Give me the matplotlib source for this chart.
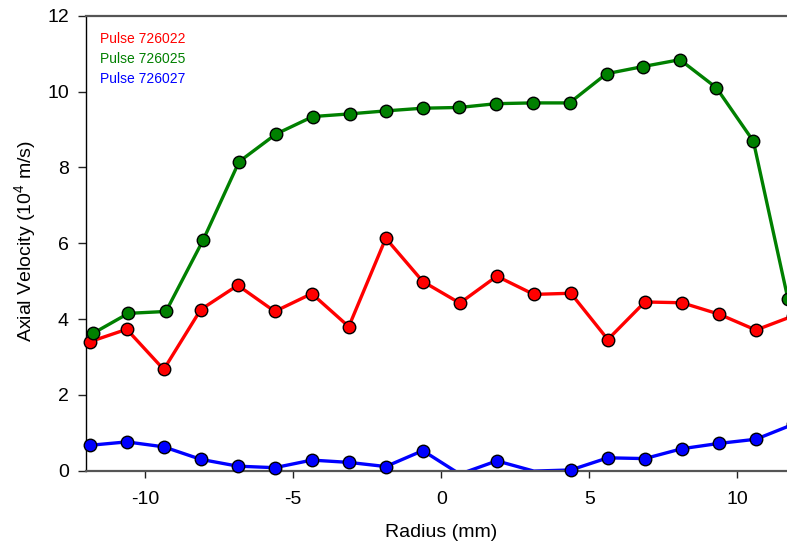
import matplotlib
matplotlib.use("Agg")
import matplotlib.pyplot as plt
import numpy as np

plt.rcParams['font.family'] = ['Liberation Sans', 'DejaVu Sans']
plt.rcParams['mathtext.fontset'] = 'custom'
plt.rcParams['mathtext.rm'] = 'Liberation Sans'
plt.rcParams['mathtext.it'] = 'Liberation Sans:italic'

# Data
radius = [-11.875, -10.625, -9.375, -8.125, -6.875, -5.625, -4.375, -3.125, -1.875, -0.625,
          0.625, 1.875, 3.125, 4.375, 5.625, 6.875, 8.125, 9.375, 10.625, 11.875]
radius_green = [-11.77, -10.57, -9.30, -8.04, -6.83, -5.58, -4.34, -3.10, -1.87, -0.63,
                0.61, 1.86, 3.09, 4.33, 5.58, 6.82, 8.06, 9.29, 10.54, 11.71]
v_726022 = [3.40, 3.73, 2.67, 4.25, 4.89, 4.20, 4.67, 3.80, 6.13, 4.99,
            4.42, 5.13, 4.65, 4.68, 3.46, 4.45, 4.43, 4.13, 3.71, 4.08]
v_726025 = [3.62, 4.15, 4.20, 6.09, 8.15, 8.88, 9.34, 9.41, 9.49, 9.56,
            9.58, 9.68, 9.70, 9.70, 10.47, 10.66, 10.84, 10.10, 8.69, 4.52]
v_726027 = [0.67, 0.76, 0.63, 0.30, 0.12, 0.08, 0.28, 0.22, 0.11, 0.53,
            -0.09, 0.26, -0.01, 0.02, 0.34, 0.32, 0.58, 0.72, 0.83, 1.22]
labels = ['Pulse 726022', 'Pulse 726025', 'Pulse 726027']
colors = ['#ff0000', '#008000', '#0000ff']
xticks = [-10, -5, 0, 5, 10]
yticks = [0, 2, 4, 6, 8, 10, 12]

fig = plt.figure(figsize=(7.87, 5.45), dpi=100)
ax = fig.add_axes([0.1093, 0.1363, 0.9029, 0.8349])

series = [(radius, v_726022), (radius_green, v_726025), (radius, v_726027)]
for (xs, ys), c in zip(series, colors):
    ax.plot(xs, ys, color=c, lw=2.4, zorder=2, solid_joinstyle='round')
    ym = np.ma.masked_less(np.array(ys), 0)
    ax.plot(xs, ym, linestyle='none', marker='o', markersize=9.0,
            markerfacecolor=c, markeredgecolor='black', markeredgewidth=1.0,
            zorder=3, clip_on=False)

ax.set_xlim(-12, 12)
ax.set_ylim(0, 12)
ax.set_xticks(xticks)
ax.set_yticks(yticks)
ax.set_xticklabels([str(t) for t in xticks])
ax.set_yticklabels([str(t) for t in yticks])
ax.tick_params(axis='both', direction='out', labelsize=14, colors='#222222',
               labelcolor='black', width=1.0)
ax.tick_params(axis='x', length=5.2, pad=9.5)
ax.tick_params(axis='y', length=5.8, pad=6.5)

ax.spines['left'].set_color('black')
ax.spines['left'].set_linewidth(1.0)
ax.spines['bottom'].set_color('#555555')
ax.spines['bottom'].set_linewidth(1.6)
ax.spines['top'].set_color('#555555')
ax.spines['top'].set_linewidth(1.6)
ax.spines['right'].set_visible(False)

ax.set_xlabel('Radius (mm)', fontsize=14, va='center')
ax.xaxis.set_label_coords(0.5, -0.1347)
ax.set_ylabel('Axial Velocity (10$^{4}$ m/s)', fontsize=14, va='center')
ax.yaxis.set_label_coords(-0.0858, 0.505)

ys_txt = [1 - 39.3 / 545, 1 - 59.3 / 545, 1 - 78.7 / 545]
for lab, c, yy in zip(labels, colors, ys_txt):
    fig.text(100 / 787, yy, lab, color=c, fontsize=10, ha='left', va='center')

fig.savefig('out.png', dpi=100)
